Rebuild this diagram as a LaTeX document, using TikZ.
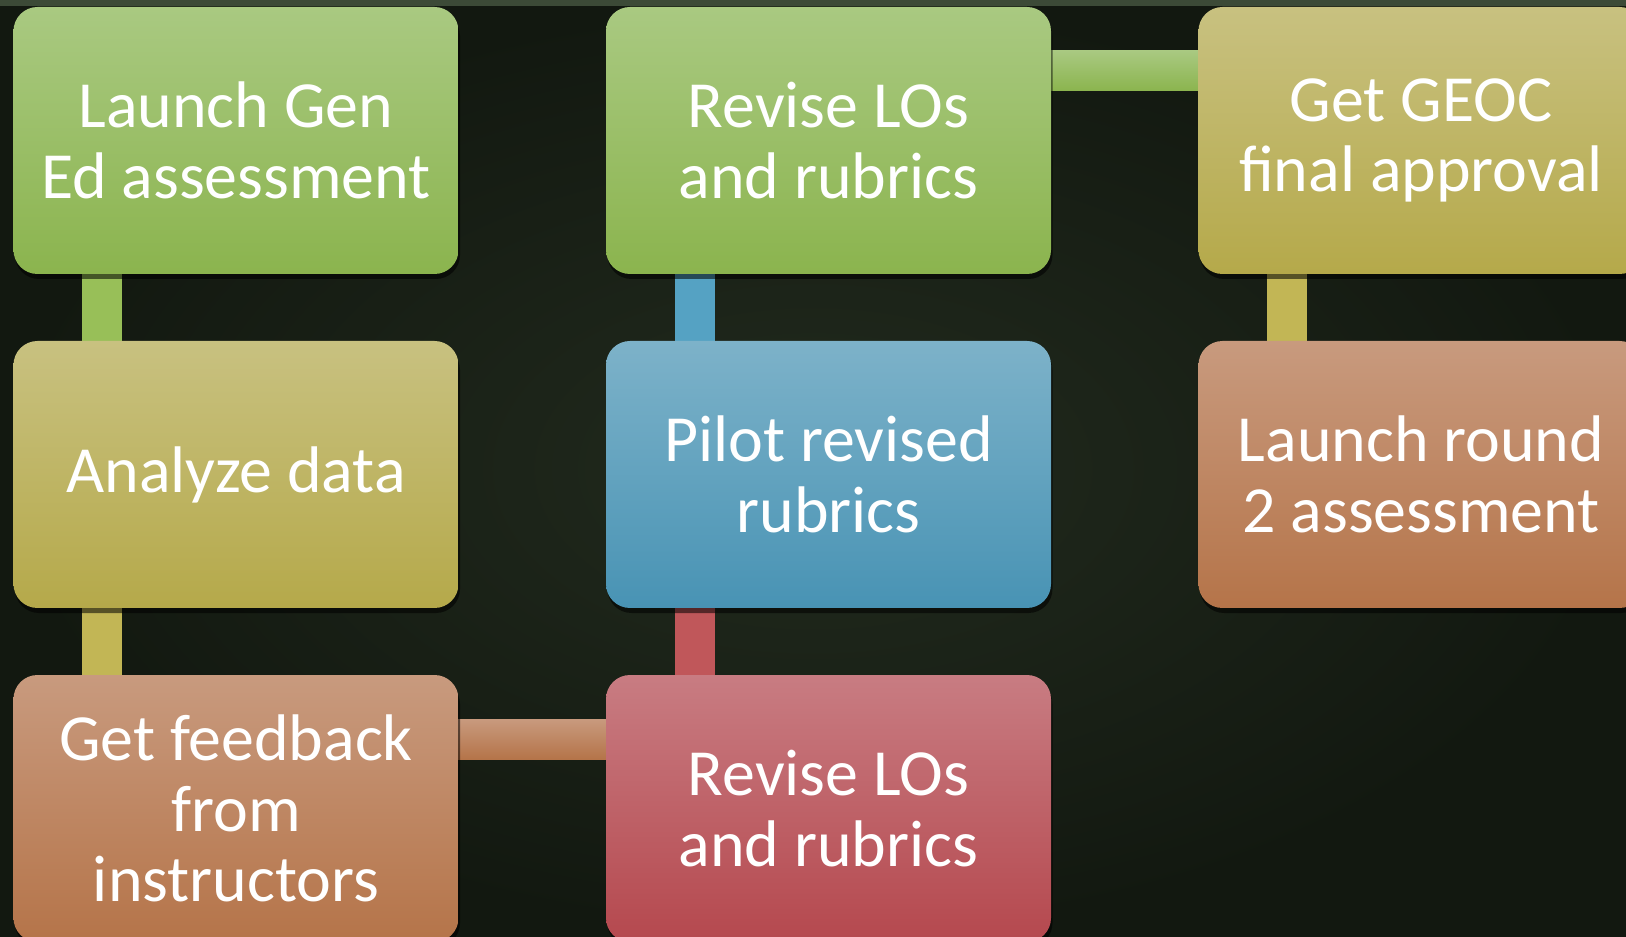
\documentclass[tikz,border=0pt]{standalone}
\usepackage{fontspec}
\setmainfont{Carlito}
\usetikzlibrary{%
	positioning,
	shadows,
	backgrounds
}

\definecolor{greenTop}{HTML}{A9C981}
\definecolor{greenBot}{HTML}{8BB44E}
\definecolor{oliveTop}{HTML}{C8C180}
\definecolor{oliveBot}{HTML}{B5A94A}
\definecolor{tanTop}{HTML}{C89A7E}
\definecolor{tanBot}{HTML}{B57449}
\definecolor{blueTop}{HTML}{7DB2C9}
\definecolor{blueBot}{HTML}{4893B4}
\definecolor{redTop}{HTML}{C87C82}
\definecolor{redBot}{HTML}{B5484E}
\definecolor{greenBar}{HTML}{98BF58}
\definecolor{oliveBar}{HTML}{C2B655}
\definecolor{blueBar}{HTML}{55A2C3}
\definecolor{redBar}{HTML}{C0575A}
\definecolor{bgIn}{HTML}{222B1E}
\definecolor{bgOut}{HTML}{121810}
\definecolor{bgStrip}{HTML}{3C4A37}

\begin{document}
\begin{tikzpicture}[
		stage/.style={draw=none,shape=rectangle,rounded corners=0.48cm,minimum width=8.9cm,minimum height=5.34cm,inner sep=0pt,outer sep=0pt,text=white,align=center,font=\fontsize{37.5}{40}\selectfont,drop shadow={shadow xshift=0.03cm,shadow yshift=-0.1cm,opacity=0.55,fill=black}},
		stage-green/.style={stage,top color=greenTop,bottom color=greenBot},
		stage-olive/.style={stage,top color=oliveTop,bottom color=oliveBot},
		stage-tan/.style={stage,top color=tanTop,bottom color=tanBot},
		stage-blue/.style={stage,top color=blueTop,bottom color=blueBot},
		stage-red/.style={stage,top color=redTop,bottom color=redBot},
		vbar/.style={line width=0.8cm}
	]
	
	\useasboundingbox (0,0) rectangle (32.52,-18.74);
	\clip (0,0) rectangle (32.52,-18.74);
	
	% first column
	\node(launch) [stage-green] at (4.72,-2.81) {Launch Gen\\Ed assessment};
	\node(analyze) [stage-olive, below=1.34cm of launch] {Analyze data};
	\node(feedback) [stage-tan, below=1.34cm of analyze] {Get feedback\\from\\instructors};
	
	% second column
	\node(revise-top) [stage-green, right=2.95cm of launch] {Revise LOs\\and rubrics};
	\node(pilot) [stage-blue, below=1.34cm of revise-top] {Pilot revised\\rubrics};
	\node(revise-bot) [stage-red, below=1.34cm of pilot] {Revise LOs\\and rubrics};
	
	% third column
	\node(approval) [stage-olive, right=2.95cm of revise-top] {Get GEOC\\final approval};
	\node(round2) [stage-tan, below=1.34cm of approval] {Launch round\\2 assessment};
	
	\begin{scope}[on background layer]
		\fill[inner color=bgIn, outer color=bgOut] (0,0) rectangle (32.52,-18.74);
		\fill[bgStrip] (0,0) rectangle (32.52,-0.12);
		
		% links
		\draw[vbar, greenBar] ([xshift=-2.68cm]launch.center) -- ([xshift=-2.68cm]analyze.center);
		\draw[vbar, oliveBar] ([xshift=-2.68cm]analyze.center) -- ([xshift=-2.68cm]feedback.center);
		\draw[vbar, blueBar] ([xshift=-2.68cm]revise-top.center) -- ([xshift=-2.68cm]pilot.center);
		\draw[vbar, redBar] ([xshift=-2.68cm]pilot.center) -- ([xshift=-2.68cm]revise-bot.center);
		\draw[vbar, oliveBar] ([xshift=-2.68cm]approval.center) -- ([xshift=-2.68cm]round2.center);
		\fill[top color=greenTop, bottom color=greenBot] ([yshift=1.79cm,xshift=-0.2cm]revise-top.east) rectangle ([yshift=0.99cm,xshift=0.2cm]approval.west);
		\fill[top color=tanTop, bottom color=tanBot] ([yshift=1.79cm,xshift=-0.2cm]feedback.east) rectangle ([yshift=0.99cm,xshift=0.2cm]revise-bot.west);
	\end{scope}
	
\end{tikzpicture}
\end{document}
